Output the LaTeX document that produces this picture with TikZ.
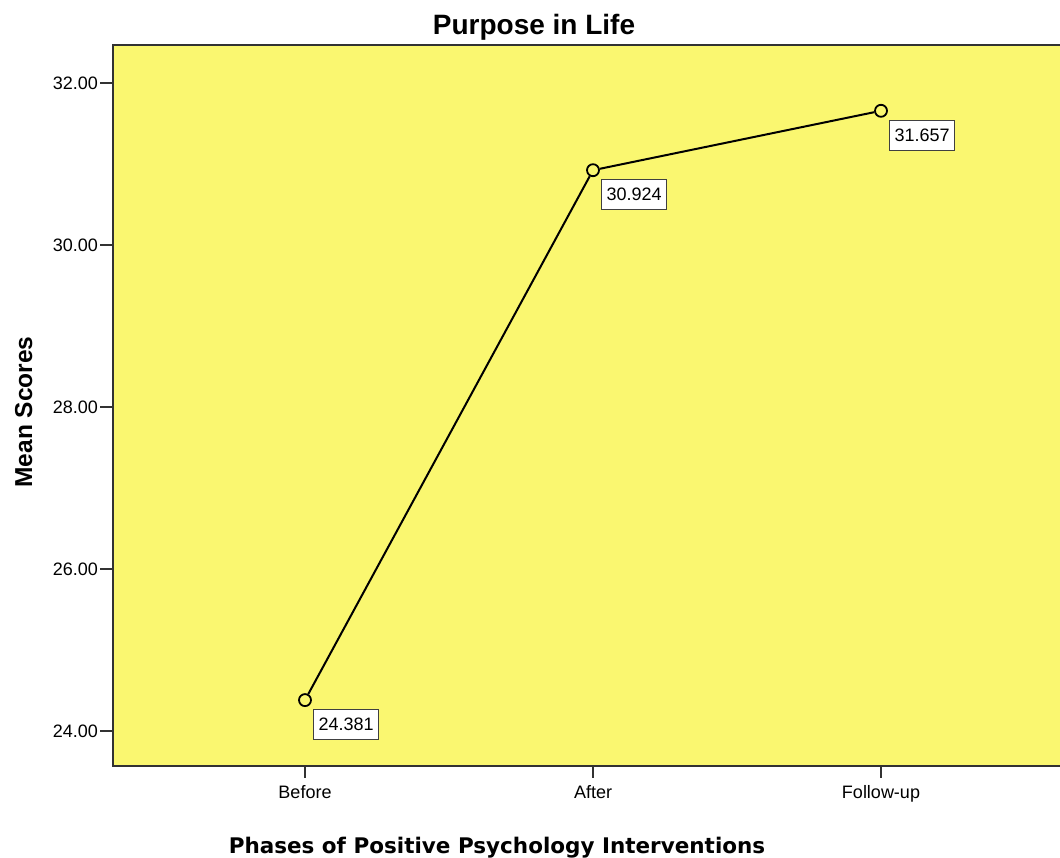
\documentclass[tikz,border=0pt]{standalone}
\usepackage{fontspec}
\setmainfont{Liberation Sans}
\newfontfamily\axisfont{DejaVu Sans}
\usetikzlibrary{positioning}
\definecolor{plotyellow}{RGB}{250,247,112}
\definecolor{framegray}{RGB}{50,50,50}

\begin{document}
\begin{tikzpicture}[x=1pt,y=-1pt,
  frame/.style={draw=framegray, line width=2pt},
  tickmark/.style={draw=framegray, line width=1.5pt},
  ticklabel/.style={inner sep=0pt, font=\fontsize{18}{20}\selectfont},
  meanpt/.style={draw, circle, minimum size=12pt, inner sep=0pt, line width=1.8pt},
  valbox/.style={draw=black!75, fill=white, line width=1.3pt, inner xsep=5pt, minimum height=30pt, font=\fontsize{18}{20}\selectfont}]
\useasboundingbox (0,0) rectangle (1060,858);
\clip (0,0) rectangle (1060,858);

\fill[plotyellow] (113,45) rectangle (1085,766);
\draw[frame] (1085,45) -- (113,45) -- (113,766) -- (1085,766);

\node[anchor=base, font=\bfseries\fontsize{28}{30}\selectfont] (title) at (534,35) {Purpose in Life};

\foreach \v in {24,26,28,30,32} {
  \draw[tickmark] (100,{731-(\v-24)*81}) -- (113,{731-(\v-24)*81});
  \node[ticklabel, anchor=east] at (98,{731-(\v-24)*81}) {\v.00};
}

\foreach \x/\name in {305/Before, 593/After, 881/Follow-up} {
  \draw[tickmark] (\x,766) -- (\x,778);
  \node[ticklabel, anchor=base] at (\x,798) {\name};
}

\node[meanpt] (before) at (305,700.1) {};
\node[meanpt] (after) at (593,170.2) {};
\node[meanpt] (follow) at (881,110.8) {};
\draw[line width=2pt] (before) -- (after) -- (follow);

\node[valbox, below right=4pt and 3pt of before] {24.381};
\node[valbox, below right=4pt and 3pt of after] {30.924};
\node[valbox, below right=4pt and 3pt of follow] {31.657};

\node[anchor=base, rotate=90, font=\bfseries\fontsize{24.5}{26}\selectfont] (ylabel) at (32,412) {Mean Scores};
\node[anchor=base, font=\axisfont\bfseries\fontsize{21.5}{24}\selectfont] (xlabel) at (497,853) {Phases of Positive Psychology Interventions};
\end{tikzpicture}
\end{document}
